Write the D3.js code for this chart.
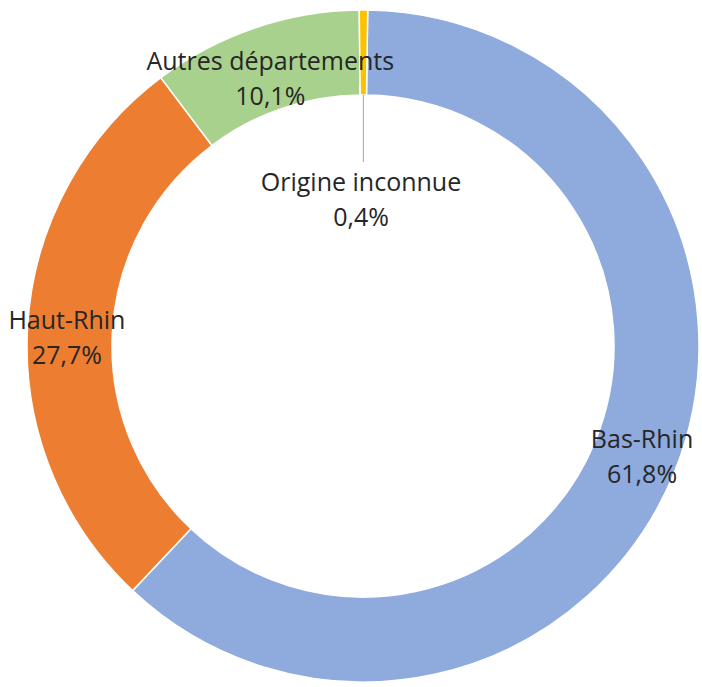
<!DOCTYPE html>
<html>
<head>
<meta charset="utf-8">
<script src="https://cdn.jsdelivr.net/npm/d3@7"></script>
<style>
  html, body { margin: 0; padding: 0; background: #fff; }
  text { font-family: "Open Sans", "Noto Sans", sans-serif; }
</style>
</head>
<body>
<script>
// parts of the total, clockwise from 12 o'clock
var names  = ["Bas-Rhin", "Haut-Rhin", "Autres départements", "Origine inconnue"];
var values = [61.8, 27.7, 10.1, 0.4];
var labels = ["61,8%", "27,7%", "10,1%", "0,4%"];
var colors = ["#8FAADC", "#ED7D31", "#A9D18E", "#FFC000"];

var width = 702, height = 687;
var cx = 363, cy = 346;
var outerR = 336, innerR = 251;
var rot = 0.8 * Math.PI / 180;

// small nudges so labels sit where Excel's "best fit" put them
var nudge = {
  "Bas-Rhin": [7, 0],
  "Haut-Rhin": [-3, 8],
  "Autres départements": [2, 10]
};

var svg = d3.select("body").append("svg")
    .attr("width", width)
    .attr("height", height);

var g = svg.append("g").attr("transform", "translate(" + cx + "," + cy + ")");

var pie = d3.pie().sort(null).value(function(d) { return d; })
    .startAngle(rot).endAngle(2 * Math.PI + rot);
var arcs = pie(values);

var arc = d3.arc().innerRadius(innerR).outerRadius(outerR);

g.selectAll("path.slice")
  .data(arcs)
  .enter().append("path")
    .attr("class", "slice")
    .attr("d", arc)
    .attr("fill", function(d, i) { return colors[i]; })
    .attr("stroke", "#fff")
    .attr("stroke-width", 1.5);

var fontSize = 25, lineGap = 35;

arcs.forEach(function(d, i) {
  var x, y;
  if (i === 3) {
    // tiny slice: label pulled inside the hole with a leader line
    var a = (d.startAngle + d.endAngle) / 2;
    var lx = Math.sin(a) * innerR, ly = -Math.cos(a) * innerR;
    x = -2;
    y = -147;
    g.append("line")
      .attr("x1", lx).attr("y1", ly)
      .attr("x2", lx).attr("y2", y - 37)
      .attr("stroke", "#a6a6a6")
      .attr("stroke-width", 1);
  } else {
    var c = arc.centroid(d);
    var n = nudge[names[i]] || [0, 0];
    x = c[0] + n[0];
    y = c[1] + n[1];
  }
  var t = g.append("text")
    .attr("text-anchor", "middle")
    .attr("fill", "#262626")
    .attr("font-size", fontSize);
  t.append("tspan").attr("x", x).attr("y", y - 8.5).text(names[i]);
  t.append("tspan").attr("x", x).attr("y", y - 8.5 + lineGap).text(labels[i]);
});
</script>
</body>
</html>
